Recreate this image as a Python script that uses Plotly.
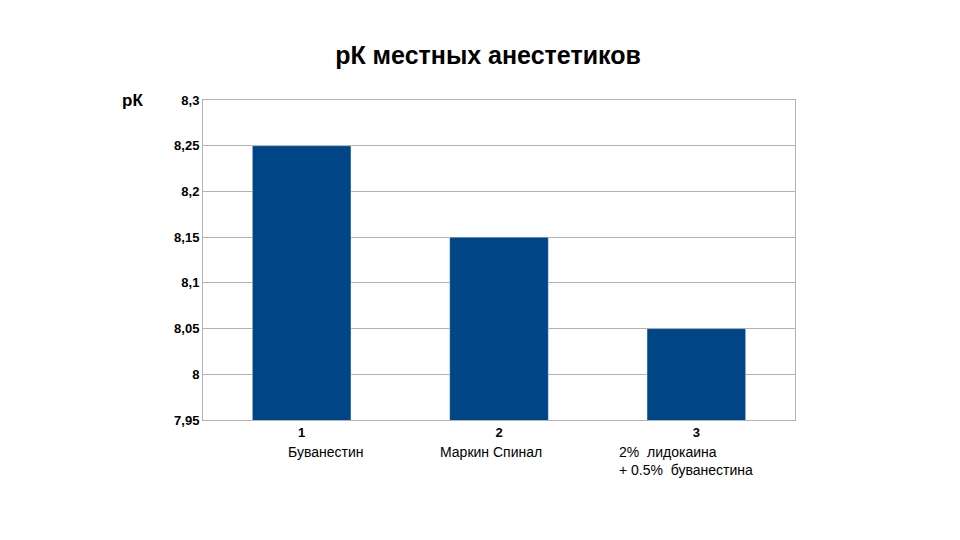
import plotly.graph_objects as go

categories = ["<b>1</b>", "<b>2</b>", "<b>3</b>"]
names = ["Буванестин", "Маркин Спинал", "2%  лидокаина<br>+ 0.5%  буванестина"]
values = [8.25, 8.15, 8.05]
y_ticks = [7.95, 8, 8.05, 8.1, 8.15, 8.2, 8.25, 8.3]
y_labels = ["<b>%s</b>" % s for s in ["7,95", "8", "8,05", "8,1", "8,15", "8,2", "8,25", "8,3"]]

fig = go.Figure(go.Bar(x=[1, 2, 3], y=values, marker_color="#004586", width=0.5))

font = "Liberation Sans, Arial, sans-serif"
fig.update_layout(
    width=960, height=540, plot_bgcolor="white", paper_bgcolor="white",
    margin=dict(l=195, r=173, t=92, b=128),
    showlegend=False, font=dict(family=font, color="black"),
    title=dict(text="<b>рК местных анестетиков</b>", x=0.5, xanchor="center",
               y=0.913, yanchor="middle", font=dict(size=25)),
    xaxis=dict(range=[0.5, 3.5], tickvals=[1, 2, 3], ticktext=categories,
               showgrid=False, showline=True, linecolor="#b3b3b3", mirror=True,
               ticks="", tickfont=dict(size=13)),
    yaxis=dict(range=[7.95, 8.3], tickvals=y_ticks, ticktext=y_labels,
               gridcolor="#b3b3b3", showline=True, linecolor="#b3b3b3", mirror=True,
               ticks="", tickfont=dict(size=13), zeroline=False),
)
fig.add_annotation(text="<b>рК</b>", xref="paper", yref="paper", x=-0.14, y=1.0,
                   xanchor="left", yanchor="middle", showarrow=False, font=dict(size=17))
xs = [1.12, 1.96, 2.6]
anchors = ["center", "center", "left"]
for x, n, a in zip(xs, names, anchors):
    fig.add_annotation(text=n, x=x, xref="x", yref="paper", y=-0.07, yanchor="top",
                       xanchor=a, align="left", showarrow=False, font=dict(size=14))
fig.write_html("out.html")
